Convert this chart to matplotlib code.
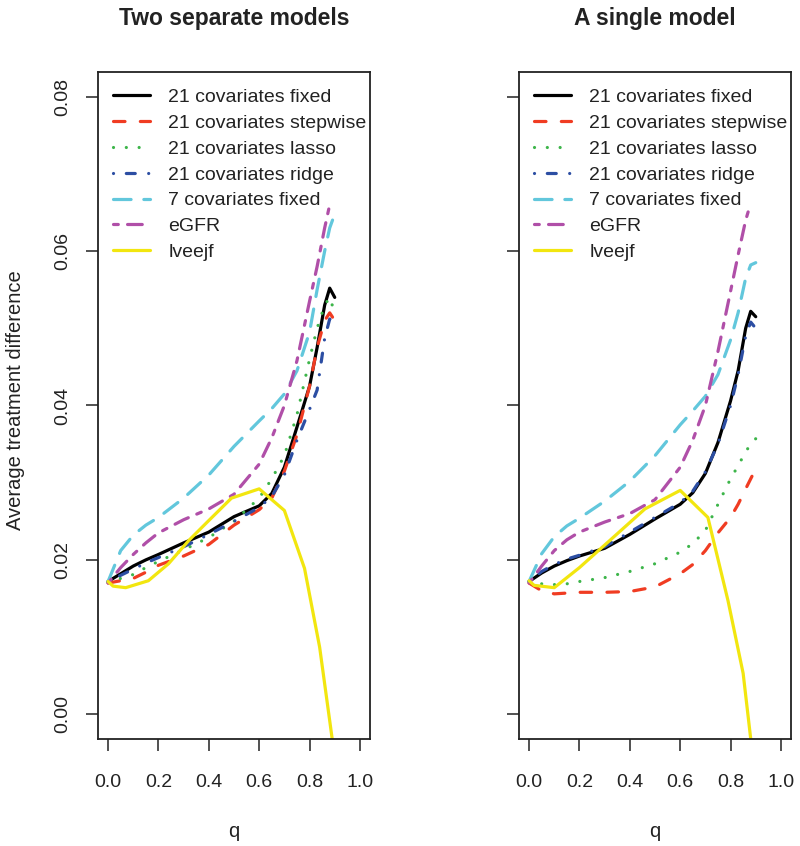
import matplotlib.pyplot as plt
import numpy as np

plt.rcParams['font.family'] = ['Liberation Sans', 'DejaVu Sans']

# common q grid for the smooth curves
q = [0, 0.05, 0.1, 0.15, 0.2, 0.3, 0.4, 0.5, 0.6, 0.65, 0.7, 0.75, 0.8, 0.83, 0.86, 0.88, 0.9]

labels = ["21 covariates fixed", "21 covariates stepwise", "21 covariates lasso",
          "21 covariates ridge", "7 covariates fixed", "eGFR", "lveejf"]

# Two separate models
sep_fixed21 = [0.0172, 0.0182, 0.0192, 0.0200, 0.0207, 0.0222, 0.0236, 0.0256, 0.0270, 0.0286,
               0.0320, 0.0372, 0.0425, 0.0475, 0.0530, 0.0552, 0.0540]
sep_stepwise = [0.0170, 0.0173, 0.0176, 0.0184, 0.0193, 0.0205, 0.0220, 0.0245, 0.0265, 0.0280,
                0.0315, 0.0362, 0.0425, 0.0475, 0.0510, 0.0520, 0.0510]
sep_lasso = [0.0171, 0.0176, 0.0181, 0.0190, 0.0198, 0.0213, 0.0229, 0.0250, 0.0280, 0.0305,
             0.0335, 0.0388, 0.0460, 0.0500, 0.0530, 0.0540, 0.0520]
sep_ridge = [0.0172, 0.0180, 0.0188, 0.0196, 0.0203, 0.0217, 0.0233, 0.0250, 0.0268, 0.0282,
             0.0310, 0.0355, 0.0395, 0.0420, 0.0487, 0.0512, 0.0508]
sep_fixed7 = [0.0172, 0.0212, 0.0232, 0.0245, 0.0255, 0.0280, 0.0310, 0.0347, 0.0380, 0.0396,
              0.0415, 0.0445, 0.0495, 0.0550, 0.0600, 0.0630, 0.0648]
sep_egfr = [0.0170, 0.0190, 0.0207, 0.0222, 0.0235, 0.0252, 0.0266, 0.0285, 0.0324, 0.0358,
            0.0400, 0.0458, 0.0535, 0.0580, 0.0630, 0.0660]
sep_lv_q = [0, 0.02, 0.07, 0.16, 0.24, 0.32, 0.40, 0.49, 0.6, 0.7, 0.78, 0.84, 0.9]
sep_lv = [0.0172, 0.0166, 0.0164, 0.0173, 0.0195, 0.0225, 0.0251, 0.0280, 0.0292, 0.0264,
          0.0189, 0.0087, -0.0056]

# A single model
one_fixed21 = [0.0172, 0.0183, 0.0192, 0.0199, 0.0205, 0.0215, 0.0233, 0.0253, 0.0272, 0.0287,
               0.0312, 0.0352, 0.0406, 0.0445, 0.0500, 0.0522, 0.0515]
one_stepwise = [0.0170, 0.0160, 0.0156, 0.0157, 0.0158, 0.0158, 0.0159, 0.0165, 0.0182, 0.0194,
                0.0212, 0.0235, 0.0255, 0.0272, 0.0292, 0.0305, 0.0318]
one_lasso = [0.0172, 0.0169, 0.0168, 0.0169, 0.0172, 0.0177, 0.0185, 0.0195, 0.0210, 0.0221,
             0.0238, 0.0272, 0.0305, 0.0322, 0.0340, 0.0350, 0.0357]
one_ridge = [0.0172, 0.0185, 0.0194, 0.0201, 0.0206, 0.0217, 0.0236, 0.0255, 0.0274, 0.0289,
             0.0314, 0.0350, 0.0400, 0.0440, 0.0490, 0.0508, 0.0500]
one_fixed7 = [0.0172, 0.0208, 0.0230, 0.0244, 0.0254, 0.0276, 0.0302, 0.0335, 0.0375, 0.0393,
              0.0412, 0.0440, 0.0485, 0.0520, 0.0565, 0.0582, 0.0585]
one_egfr = [0.0170, 0.0192, 0.0212, 0.0226, 0.0236, 0.0249, 0.0260, 0.0278, 0.0320, 0.0355,
            0.0400, 0.0470, 0.0548, 0.0595, 0.0640, 0.0662]
one_lv_q = [0, 0.02, 0.1, 0.2, 0.32, 0.46, 0.6, 0.71, 0.79, 0.85, 0.9]
one_lv = [0.0173, 0.0167, 0.0164, 0.0190, 0.0225, 0.0266, 0.0290, 0.0255, 0.0147, 0.0053, -0.0088]

colors = ['black', '#f03c22', '#3db54a', '#2c4ea3', '#62c7dc', '#b04fa8', '#f2e60f']
# R-like lty patterns (solid, dashed, dotted, dotdash, longdash, twodash, solid)
styles = ['-', (0, (3.6, 4.8)), (0, (0.01, 4)), (0, (0.01, 4, 2.8, 4.2)),
          (0, (5.5, 4)), (0, (1.5, 2.9, 4.6, 2.9)), '-']

fig = plt.figure(figsize=(8, 8.46), dpi=100)
ax1 = fig.add_axes([0.1225, 0.1265, 0.34, 0.7884])
ax2 = fig.add_axes([0.64875, 0.1265, 0.34, 0.7884])

panels = [
    (ax1, "Two separate models",
     [sep_fixed21, sep_stepwise, sep_lasso, sep_ridge, sep_fixed7, sep_egfr], sep_lv_q, sep_lv),
    (ax2, "A single model",
     [one_fixed21, one_stepwise, one_lasso, one_ridge, one_fixed7, one_egfr], one_lv_q, one_lv),
]

for ax, title, curves, lv_q, lv in panels:
    for i, y in enumerate(curves):
        ax.plot(q[:len(y)], y, color=colors[i], linestyle=styles[i], lw=2.3,
                dash_capstyle='round', solid_capstyle='round', label=labels[i])
    ax.plot(lv_q, lv, color=colors[6], linestyle=styles[6], lw=2.3,
            solid_capstyle='round', label=labels[6])

    ax.set_xlim(-0.04, 1.04)
    ax.set_ylim(-0.0032, 0.0832)
    ax.set_xticks([0, 0.2, 0.4, 0.6, 0.8, 1.0])
    ax.set_xticklabels(['%.1f' % v for v in [0, 0.2, 0.4, 0.6, 0.8, 1.0]],
                       family=['Liberation Sans Narrow', 'Liberation Sans'], fontsize=14)
    ax.set_yticks([0, 0.02, 0.04, 0.06, 0.08])
    ax.tick_params(direction='out', length=8.5, width=1.1, colors='#222222')
    ax.tick_params(axis='x', pad=17)
    ax.tick_params(axis='y', pad=11)
    for s in ax.spines.values():
        s.set_linewidth(1.3)
        s.set_color('#222222')

    ax.text(0.5, 1.0795, title, transform=ax.transAxes, ha='center', va='center',
            fontsize=16.5, fontweight='bold', color='#222222')
    ax.text(0.5, -0.147, 'q', transform=ax.transAxes, ha='center', va='baseline',
            fontsize=14.5, color='#222222')

    ax.legend(loc='upper left', bbox_to_anchor=(0.055, 0.975), frameon=False,
              borderpad=0, borderaxespad=0, fontsize=14, labelspacing=0.42,
              handlelength=1.9, handletextpad=0.95, labelcolor='#222222')

ax1.set_yticklabels(['%.2f' % v for v in [0, 0.02, 0.04, 0.06, 0.08]], fontsize=14)
for lab in ax1.get_yticklabels():
    lab.set_rotation(90)
    lab.set_va('center')
ax2.set_yticklabels([])

fig.text(16 / 800, 1 - 400 / 846, 'Average treatment difference', rotation=90,
         ha='center', va='center', fontsize=14.5, color='#222222')

fig.savefig('out.png', dpi=100)
